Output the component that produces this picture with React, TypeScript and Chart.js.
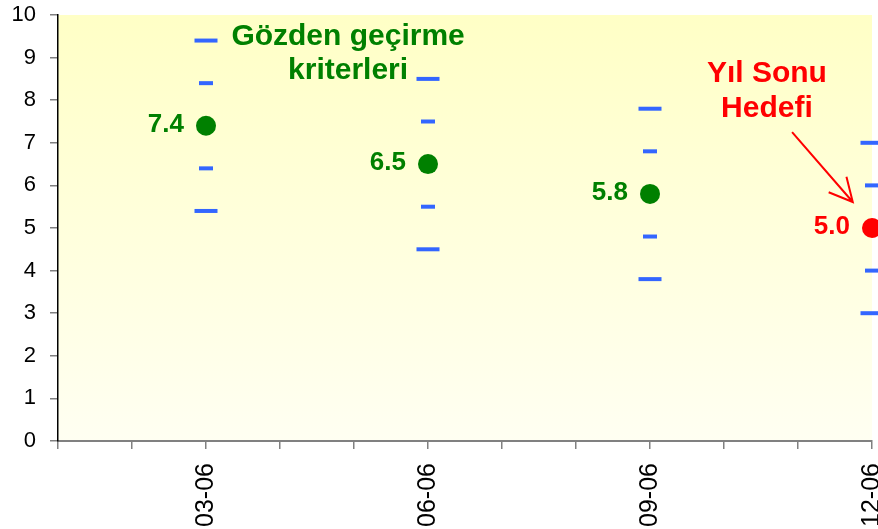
import React, { useEffect, useRef } from "react";
import { Chart, registerables } from "chart.js";

Chart.register(...registerables);

const months = ["01-06", "02-06", "03-06", "04-06", "05-06", "06-06", "07-06", "08-06", "09-06", "10-06", "11-06", "12-06"];
const shownLabels = ["03-06", "06-06", "09-06", "12-06"];
const forecast = [null, null, 7.4, null, null, 6.5, null, null, 5.8, null, null, null];
const yearEndTarget = [null, null, null, null, null, null, null, null, null, null, null, 5.0];
const outerUpper = [null, null, 9.4, null, null, 8.5, null, null, 7.8, null, null, 7.0];
const innerUpper = [null, null, 8.4, null, null, 7.5, null, null, 6.8, null, null, 6.0];
const innerLower = [null, null, 6.4, null, null, 5.5, null, null, 4.8, null, null, 4.0];
const outerLower = [null, null, 5.4, null, null, 4.5, null, null, 3.8, null, null, 3.0];
const yTicks = [0, 1, 2, 3, 4, 5, 6, 7, 8, 9, 10];

const reviewText = ["Gözden geçirme", "kriterleri"];
const targetText = ["Yıl Sonu", "Hedefi"];

const GREEN = "#008000";
const RED = "#ff0000";
const BLUE = "#3366ff";
const FONT = "'Liberation Sans', Arial, Helvetica, sans-serif";

const bgPlugin = {
  id: "bgGradient",
  beforeDraw(chart: any) {
    const { ctx, chartArea } = chart;
    if (!chartArea) return;
    const g = ctx.createLinearGradient(0, chartArea.top, 0, chartArea.bottom);
    g.addColorStop(0, "#ffffc6");
    g.addColorStop(1, "#fffff2");
    ctx.save();
    ctx.fillStyle = g;
    ctx.fillRect(chartArea.left, chartArea.top, chartArea.right - chartArea.left, chartArea.bottom - chartArea.top);
    ctx.restore();
  },
};

const textPlugin = {
  id: "texts",
  afterDatasetsDraw(chart: any) {
    const { ctx, scales } = chart;
    const xs = scales.x;
    const ys = scales.y;
    ctx.save();
    ctx.font = `bold 26px ${FONT}`;
    ctx.textAlign = "right";
    ctx.textBaseline = "middle";
    const drawValues = (arr: (number | null)[], color: string) => {
      ctx.fillStyle = color;
      arr.forEach((v, i) => {
        if (v == null) return;
        const px = xs.getPixelForValue(i);
        const py = ys.getPixelForValue(v);
        ctx.fillText(v.toFixed(1), px - 22, py - 1);
      });
    };
    drawValues(forecast, GREEN);
    drawValues(yearEndTarget, RED);

    ctx.font = `bold 30px ${FONT}`;
    ctx.textAlign = "center";
    ctx.textBaseline = "alphabetic";
    ctx.fillStyle = GREEN;
    ctx.fillText(reviewText[0], xs.getPixelForValue(3.92), ys.getPixelForValue(9.3));
    ctx.fillText(reviewText[1], xs.getPixelForValue(3.92), ys.getPixelForValue(8.5));
    ctx.fillStyle = RED;
    ctx.fillText(targetText[0], xs.getPixelForValue(9.58), ys.getPixelForValue(8.42));
    ctx.fillText(targetText[1], xs.getPixelForValue(9.58), ys.getPixelForValue(7.6));

    // arrow
    const x1 = xs.getPixelForValue(9.92);
    const y1 = ys.getPixelForValue(7.25);
    const x2 = xs.getPixelForValue(10.74);
    const y2 = ys.getPixelForValue(5.61);
    const ang = Math.atan2(y2 - y1, x2 - x1);
    const head = 26;
    const spread = 0.47;
    ctx.strokeStyle = RED;
    ctx.lineWidth = 2;
    ctx.beginPath();
    ctx.moveTo(x1, y1);
    ctx.lineTo(x2, y2);
    ctx.moveTo(x2 - head * Math.cos(ang - spread), y2 - head * Math.sin(ang - spread));
    ctx.lineTo(x2, y2);
    ctx.lineTo(x2 - head * Math.cos(ang + spread), y2 - head * Math.sin(ang + spread));
    ctx.stroke();
    ctx.restore();
  },
};

function dashSet(data: (number | null)[], radius: number) {
  return {
    data,
    showLine: false,
    pointStyle: "line",
    pointRadius: radius,
    pointHoverRadius: radius,
    pointBorderWidth: 4,
    pointBorderColor: BLUE,
    borderColor: BLUE,
    backgroundColor: BLUE,
    clip: false,
  };
}

function dotSet(data: (number | null)[], color: string) {
  return {
    data,
    showLine: false,
    pointStyle: "circle",
    pointRadius: 10,
    pointHoverRadius: 10,
    pointBorderWidth: 0,
    pointBackgroundColor: color,
    borderColor: color,
    backgroundColor: color,
    clip: false,
  };
}

export default function App() {
  const ref = useRef<HTMLCanvasElement>(null);
  useEffect(() => {
    if (!ref.current) return;
    const chart = new Chart(ref.current, {
      type: "line",
      data: {
        labels: months,
        datasets: [
          dashSet(outerUpper, 11.5),
          dashSet(innerUpper, 7),
          dashSet(innerLower, 7),
          dashSet(outerLower, 11.5),
          dotSet(forecast, GREEN),
          dotSet(yearEndTarget, RED),
        ] as any,
      },
      options: {
        animation: false,
        responsive: false,
        maintainAspectRatio: false,
        events: [],
        layout: { autoPadding: false, padding: { top: 15, right: 6, left: 0, bottom: 0 } },
        plugins: { legend: { display: false }, tooltip: { enabled: false } },
        scales: {
          x: {
            type: "category",
            offset: false,
            grid: { display: true, drawOnChartArea: false, drawTicks: true, tickLength: 8, color: "#808080", lineWidth: 1.5 },
            border: { display: true, color: "#808080", width: 2 },
            ticks: {
              autoSkip: false,
              minRotation: 90,
              maxRotation: 90,
              padding: 14,
              color: "#000",
              font: { family: FONT, size: 25 },
              callback: (v: any, i: number) => (shownLabels.includes(months[i]) ? months[i] : ""),
            },
            afterFit: (s: any) => {
              s.height = 88;
              s.paddingLeft = 0;
              s.paddingRight = 0;
            },
          },
          y: {
            min: yTicks[0],
            max: yTicks[yTicks.length - 1],
            afterBuildTicks: (s: any) => {
              s.ticks = yTicks.map((v) => ({ value: v }));
            },
            grid: { display: true, drawOnChartArea: false, drawTicks: true, tickLength: 8, color: "#808080", lineWidth: 1.5 },
            border: { display: true, color: "#000", width: 1.5 },
            ticks: {
              padding: 14,
              color: "#000",
              font: { family: FONT, size: 22 },
            },
            afterFit: (s: any) => {
              s.width = 58;
              s.paddingTop = 0;
              s.paddingBottom = 0;
            },
          },
        },
      } as any,
      plugins: [bgPlugin, textPlugin],
    });
    return () => chart.destroy();
  }, []);
  return (
    <div style={{ position: "absolute", left: 0, top: 0, width: 878, height: 529 }}>
      <canvas ref={ref} width={878} height={529} style={{ display: "block", width: 878, height: 529 }} />
    </div>
  );
}
